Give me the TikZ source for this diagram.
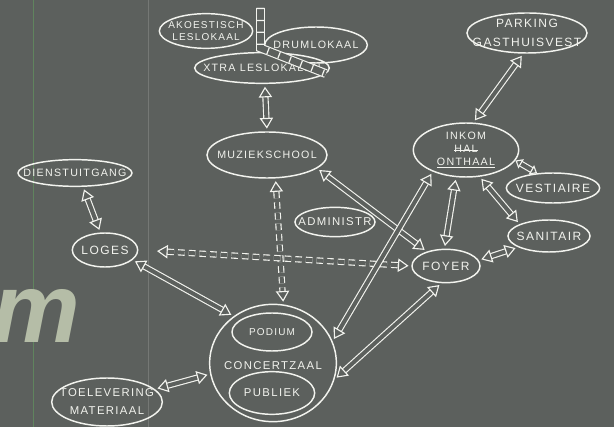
\documentclass[tikz,border=0pt]{standalone}
\usepackage{fontspec}
\setmainfont{Liberation Sans}
\newfontfamily\krijtletter[LetterSpace=12]{Liberation Sans}
\usetikzlibrary{shapes.geometric,arrows.meta}

\definecolor{bord}{RGB}{92,96,93}
\definecolor{krijt}{RGB}{242,243,238}
\definecolor{reclame}{RGB}{181,189,167}
\definecolor{naad}{RGB}{96,132,94}

\newcommand\doorhaal[1]{\setbox0\hbox{#1}\rlap{\rule[0.35ex]{\wd0}{0.6pt}}\box0}

\tikzset{every picture/.style={line width=0.75pt}}
\tikzset{
    lokaal/.style={ellipse, draw=krijt, line width=1.1pt, inner sep=0pt},
    tekst/.style={text=krijt, inner sep=0pt, align=center, font=\krijtletter\fontsize{8}{10}\selectfont},
    pijl/.style={draw=krijt, double=bord, double distance=3pt, line width=0.85pt, {Triangle[open,length=8pt,width=10pt]}-{Triangle[open,length=8pt,width=10pt]}, shorten <=2pt, shorten >=2pt},
    kortepijl/.style={pijl, {Triangle[open,length=5pt,width=8pt]}-{Triangle[open,length=5pt,width=8pt]}, shorten <=0pt, shorten >=0pt},
    stippelpijl/.style={pijl, dash pattern=on 5pt off 3pt},
    gang/.style={draw=krijt, double=bord, double distance=5pt, line width=0.85pt},
    gangstreep/.style={draw=krijt, line width=5pt, dash pattern=on 0.9pt off 8pt}
}

\begin{document}
\begin{tikzpicture}[x=0.75pt,y=0.75pt,yscale=-1,xscale=1]
    \useasboundingbox (0,0) rectangle (614,427);
    \fill[bord] (0,0) rectangle (614,427);
    \clip (0,0) rectangle (614,427);

    %Straight Lines
    \draw[naad, line width=0.6pt] (33,0) -- (33,427);
    \draw[bord!85!white, line width=0.4pt] (148,0) -- (148,427);

    % Text Node
    \node[anchor=base west, inner sep=0pt, text=reclame, font=\fontsize{74}{74}\selectfont\bfseries\itshape] (reclame-m) at (-8,343) {m};

    %Shape: Ellipse
    \node[lokaal, minimum width=70pt, minimum height=26pt] (akoestisch) at (206,31) {};
    %Shape: Ellipse
    \node[lokaal, minimum width=77pt, minimum height=27pt] (drum) at (316,45) {};
    %Shape: Ellipse
    \node[lokaal, minimum width=101pt, minimum height=23pt] (xtra) at (262,68) {};
    %Shape: Ellipse
    \node[lokaal, minimum width=90pt, minimum height=34.5pt] (muziek) at (267,155) {};
    %Shape: Ellipse
    \node[lokaal, minimum width=60pt, minimum height=22pt] (admin) at (335,222) {};
    %Shape: Ellipse
    \node[lokaal, minimum width=90pt, minimum height=30pt] (parking) at (527,33) {};
    %Shape: Ellipse
    \node[lokaal, minimum width=79pt, minimum height=40.5pt] (inkom) at (466,150) {};
    %Shape: Ellipse
    \node[lokaal, minimum width=70pt, minimum height=22.5pt] (vestiaire) at (553,188) {};
    %Shape: Ellipse
    \node[lokaal, minimum width=61.5pt, minimum height=24pt] (sanitair) at (549,236) {};
    %Shape: Ellipse
    \node[lokaal, minimum width=51pt, minimum height=25pt] (foyer) at (446,266) {};
    %Shape: Ellipse
    \node[lokaal, minimum width=85.5pt, minimum height=20pt] (dienst) at (75,173) {};
    %Shape: Ellipse
    \node[lokaal, minimum width=49pt, minimum height=25.5pt] (loges) at (105,250) {};
    %Shape: Circle
    \node[lokaal, minimum width=95pt, minimum height=88pt] (concert) at (273,363) {};
    %Shape: Ellipse
    \node[lokaal, minimum width=60pt, minimum height=28.5pt] (podium) at (272,332) {};
    %Shape: Ellipse
    \node[lokaal, minimum width=64pt, minimum height=32pt] (publiek) at (272,393) {};
    %Shape: Ellipse
    \node[lokaal, minimum width=83pt, minimum height=36pt] (toelevering) at (107,402) {};

    % Text Node
    \node[tekst, font=\krijtletter\fontsize{7.5}{9.5}\selectfont] (t-akoestisch) at (akoestisch) {AKOESTISCH\\LESLOKAAL};
    % Text Node
    \node[tekst] (t-drum) at (drum) {DRUMLOKAAL};
    % Text Node
    \node[tekst] (t-xtra) at (xtra) {XTRA LESLOKALEN};
    % Text Node
    \node[tekst] (t-muziek) at (muziek) {MUZIEKSCHOOL};
    % Text Node
    \node[tekst, font=\krijtletter\fontsize{8.5}{10}\selectfont] (t-admin) at (admin) {ADMINISTR};
    % Text Node
    \node[tekst, font=\krijtletter\fontsize{9}{14}\selectfont] (t-parking) at (parking) {PARKING\\GASTHUISVEST};
    % Text Node
    \node[tekst, font=\krijtletter\fontsize{8}{9.5}\selectfont] (t-inkom) at (inkom) {INKOM\\\doorhaal{HAL}\\\underline{ONTHAAL}};
    % Text Node
    \node[tekst, font=\krijtletter\fontsize{9}{10}\selectfont] (t-vestiaire) at (vestiaire) {VESTIAIRE};
    % Text Node
    \node[tekst, font=\krijtletter\fontsize{9}{10}\selectfont] (t-sanitair) at (sanitair) {SANITAIR};
    % Text Node
    \node[tekst, font=\krijtletter\fontsize{9}{10}\selectfont] (t-foyer) at (foyer) {FOYER};
    % Text Node
    \node[tekst] (t-dienst) at (dienst) {DIENSTUITGANG};
    % Text Node
    \node[tekst, font=\krijtletter\fontsize{9}{10}\selectfont] (t-loges) at (loges) {LOGES};
    % Text Node
    \node[tekst, font=\krijtletter\fontsize{7.5}{9}\selectfont] (t-podium) at (podium) {PODIUM};
    % Text Node
    \node[tekst, font=\krijtletter\fontsize{8.5}{10}\selectfont] (t-concert) at (273,366) {CONCERTZAAL};
    % Text Node
    \node[tekst, font=\krijtletter\fontsize{8.5}{10}\selectfont] (t-publiek) at (publiek) {PUBLIEK};
    % Text Node
    \node[tekst, font=\krijtletter\fontsize{8.5}{13.5}\selectfont] (t-toelevering) at (toelevering) {TOELEVERING\\MATERIAAL};

    %Shape: Corridor
    \coordinate (gang-top) at (260.5,8);
    \coordinate (gang-knik) at (260.5,48);
    \draw[gang] (gang-top) -- (gang-knik) -- (xtra.355);
    \draw[gangstreep] (gang-top) -- (gang-knik) -- (xtra.355);

    %Straight Lines
    \draw[pijl] (xtra.280) -- (muziek.90);
    %Straight Lines
    \draw[pijl] (dienst.300) -- (loges.105);
    %Straight Lines
    \draw[pijl] (loges.340) -- (concert.130);
    %Straight Lines
    \draw[pijl] (muziek.345) -- (foyer.143);
    %Straight Lines
    \draw[stippelpijl] (muziek.290) -- (concert.80);
    %Straight Lines
    \draw[stippelpijl, shorten <=14pt] (loges.east) -- (foyer.west);
    %Straight Lines
    \draw[pijl] (concert.20) -- (inkom.213);
    %Straight Lines
    \draw[pijl] (concert.345) -- (foyer.255);
    %Straight Lines
    \draw[pijl] (inkom.250) -- (foyer.95);
    %Straight Lines
    \draw[pijl] (inkom.297) -- (sanitair.158);
    %Straight Lines
    \draw[kortepijl] (inkom.348) -- (vestiaire.137);
    %Straight Lines
    \draw[pijl] (foyer.10) -- (sanitair.200);
    %Straight Lines
    \draw[pijl] (parking.260) -- (inkom.75);
    %Straight Lines
    \draw[pijl] (toelevering.15) -- (concert.190);
\end{tikzpicture}
\end{document}
